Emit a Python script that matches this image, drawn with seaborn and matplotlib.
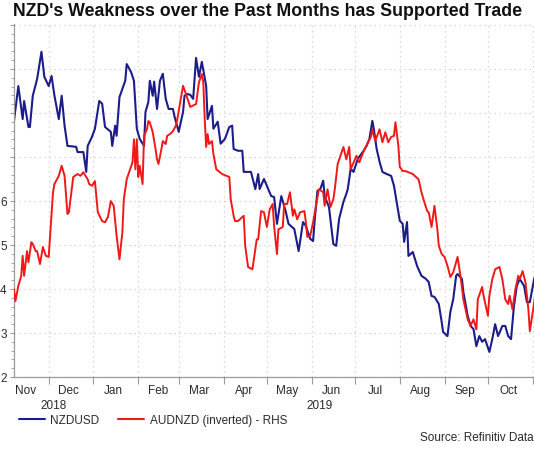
import matplotlib
matplotlib.use("Agg")
import matplotlib.pyplot as plt
import matplotlib.dates as mdates
from matplotlib.lines import Line2D
from matplotlib.ticker import FixedLocator, FixedFormatter, MultipleLocator
import seaborn as sns
import pandas as pd

# ---------------- data ----------------
nzdusd_dates = [
    "2018-11-07", "2018-11-10", "2018-11-13", "2018-11-14", "2018-11-17", "2018-11-18", "2018-11-20",
    "2018-11-23", "2018-11-26", "2018-11-28", "2018-12-01", "2018-12-03", "2018-12-05", "2018-12-08",
    "2018-12-10", "2018-12-12", "2018-12-14", "2018-12-20", "2018-12-21", "2018-12-25", "2018-12-27",
    "2018-12-28", "2018-12-31", "2019-01-02", "2019-01-05", "2019-01-07", "2019-01-09", "2019-01-13",
    "2019-01-14", "2019-01-16", "2019-01-17", "2019-01-19", "2019-01-23", "2019-01-24", "2019-01-27",
    "2019-01-29", "2019-01-31", "2019-02-02", "2019-02-05", "2019-02-06", "2019-02-08", "2019-02-09",
    "2019-02-11", "2019-02-12", "2019-02-14", "2019-02-16", "2019-02-18", "2019-02-20", "2019-02-22",
    "2019-02-25", "2019-02-26", "2019-03-01", "2019-03-04", "2019-03-05", "2019-03-07", "2019-03-09",
    "2019-03-11", "2019-03-13", "2019-03-15", "2019-03-17", "2019-03-20", "2019-03-21", "2019-03-24",
    "2019-03-25", "2019-03-28", "2019-03-30", "2019-04-02", "2019-04-05", "2019-04-07", "2019-04-08",
    "2019-04-11", "2019-04-14", "2019-04-15", "2019-04-20", "2019-04-23", "2019-04-25", "2019-04-26",
    "2019-04-29", "2019-05-04", "2019-05-06", "2019-05-08", "2019-05-11", "2019-05-14", "2019-05-16",
    "2019-05-20", "2019-05-23", "2019-05-26", "2019-05-28", "2019-05-31", "2019-06-02", "2019-06-03",
    "2019-06-05", "2019-06-07", "2019-06-09", "2019-06-10", "2019-06-13", "2019-06-16", "2019-06-18",
    "2019-06-20", "2019-06-23", "2019-06-25", "2019-06-26", "2019-06-28", "2019-06-30", "2019-07-03",
    "2019-07-07", "2019-07-09", "2019-07-11", "2019-07-13", "2019-07-14", "2019-07-16", "2019-07-18",
    "2019-07-20", "2019-07-23", "2019-07-26", "2019-07-28", "2019-08-01", "2019-08-03", "2019-08-04",
    "2019-08-06", "2019-08-07", "2019-08-10", "2019-08-13", "2019-08-16", "2019-08-19", "2019-08-21",
    "2019-08-23", "2019-08-25", "2019-08-28", "2019-08-30", "2019-08-31", "2019-09-03", "2019-09-05",
    "2019-09-07", "2019-09-09", "2019-09-10", "2019-09-13", "2019-09-14", "2019-09-17", "2019-09-19",
    "2019-09-21", "2019-09-23", "2019-09-25", "2019-09-27", "2019-09-29", "2019-10-02", "2019-10-04",
    "2019-10-06", "2019-10-08", "2019-10-11", "2019-10-13", "2019-10-15", "2019-10-17", "2019-10-19",
    "2019-10-21", "2019-10-23", "2019-10-26", "2019-10-28", "2019-10-30", "2019-11-02", "2019-11-03",
]
nzdusd = [
    0.6782, 0.6861, 0.6786, 0.6827, 0.6768, 0.6768, 0.6839,
    0.6877, 0.6939, 0.6882, 0.6861, 0.6884, 0.6839, 0.6786,
    0.6839, 0.6771, 0.6725, 0.6723, 0.6711, 0.6711, 0.6666,
    0.6725, 0.6746, 0.6764, 0.6827, 0.6821, 0.6768, 0.6757,
    0.6725, 0.6771, 0.6748, 0.6836, 0.6873, 0.6911, 0.6893,
    0.6873, 0.6764, 0.6741, 0.6725, 0.6802, 0.6825, 0.6873,
    0.6839, 0.6871, 0.6809, 0.6873, 0.6889, 0.6832, 0.6809,
    0.6809, 0.6793, 0.6757, 0.6802, 0.6839, 0.6843, 0.6841,
    0.6832, 0.6925, 0.6882, 0.6916, 0.6861, 0.6786, 0.6816,
    0.6764, 0.6780, 0.6730, 0.6741, 0.6768, 0.6771, 0.6718,
    0.6714, 0.6714, 0.6666, 0.6666, 0.6627, 0.6661, 0.6627,
    0.6650, 0.6611, 0.6609, 0.6548, 0.6611, 0.6577, 0.6548,
    0.6536, 0.6486, 0.6552, 0.6543, 0.6514, 0.6509, 0.6552,
    0.6623, 0.6627, 0.6646, 0.6611, 0.6586, 0.6502, 0.6498,
    0.6559, 0.6598, 0.6616, 0.6627, 0.6673, 0.6666, 0.6696,
    0.6714, 0.6725, 0.6741, 0.6782, 0.6764, 0.6718, 0.6689,
    0.6666, 0.6661, 0.6657, 0.6634, 0.6555, 0.6548, 0.6507,
    0.6552, 0.6475, 0.6484, 0.6452, 0.6430, 0.6423, 0.6416,
    0.6384, 0.6382, 0.6366, 0.6325, 0.6302, 0.6293, 0.6348,
    0.6377, 0.6430, 0.6434, 0.6423, 0.6393, 0.6339, 0.6316,
    0.6309, 0.6270, 0.6293, 0.6280, 0.6286, 0.6257, 0.6286,
    0.6320, 0.6293, 0.6316, 0.6316, 0.6293, 0.6286, 0.6361,
    0.6407, 0.6423, 0.6407, 0.6370, 0.6370, 0.6423, 0.6430,
]

audnzd_dates = [
    "2018-11-07", "2018-11-08", "2018-11-10", "2018-11-12", "2018-11-13", "2018-11-14", "2018-11-16",
    "2018-11-17", "2018-11-19", "2018-11-20", "2018-11-22", "2018-11-23", "2018-11-25", "2018-11-27",
    "2018-11-29", "2018-12-01", "2018-12-02", "2018-12-04", "2018-12-05", "2018-12-08", "2018-12-10",
    "2018-12-12", "2018-12-14", "2018-12-15", "2018-12-17", "2018-12-18", "2018-12-21", "2018-12-23",
    "2018-12-25", "2018-12-28", "2018-12-29", "2018-12-31", "2019-01-02", "2019-01-04", "2019-01-07",
    "2019-01-09", "2019-01-11", "2019-01-13", "2019-01-15", "2019-01-17", "2019-01-19", "2019-01-21",
    "2019-01-22", "2019-01-24", "2019-01-28", "2019-01-29", "2019-01-30", "2019-01-31", "2019-02-01",
    "2019-02-02", "2019-02-04", "2019-02-05", "2019-02-07", "2019-02-08", "2019-02-09", "2019-02-11",
    "2019-02-13", "2019-02-14", "2019-02-15", "2019-02-17", "2019-02-18", "2019-02-20", "2019-02-21",
    "2019-02-23", "2019-02-25", "2019-02-27", "2019-02-28", "2019-03-02", "2019-03-04", "2019-03-06",
    "2019-03-09", "2019-03-13", "2019-03-15", "2019-03-17", "2019-03-18", "2019-03-19", "2019-03-20",
    "2019-03-21", "2019-03-22", "2019-03-24", "2019-03-25", "2019-03-27", "2019-03-31", "2019-04-05",
    "2019-04-06", "2019-04-08", "2019-04-09", "2019-04-11", "2019-04-15", "2019-04-16", "2019-04-18",
    "2019-04-21", "2019-04-22", "2019-04-24", "2019-04-25", "2019-04-27", "2019-04-29", "2019-05-01",
    "2019-05-03", "2019-05-05", "2019-05-06", "2019-05-08", "2019-05-09", "2019-05-12", "2019-05-13",
    "2019-05-15", "2019-05-17", "2019-05-19", "2019-05-20", "2019-05-22", "2019-05-24", "2019-05-27",
    "2019-05-28", "2019-05-29", "2019-05-31", "2019-06-02", "2019-06-04", "2019-06-06", "2019-06-09",
    "2019-06-10", "2019-06-12", "2019-06-14", "2019-06-16", "2019-06-17", "2019-06-19", "2019-06-23",
    "2019-06-25", "2019-06-27", "2019-06-28", "2019-07-02", "2019-07-04", "2019-07-07", "2019-07-10",
    "2019-07-12", "2019-07-13", "2019-07-15", "2019-07-18", "2019-07-20", "2019-07-22", "2019-07-24",
    "2019-07-26", "2019-07-28", "2019-07-29", "2019-07-31", "2019-08-01", "2019-08-03", "2019-08-05",
    "2019-08-07", "2019-08-10", "2019-08-14", "2019-08-16", "2019-08-18", "2019-08-20", "2019-08-21",
    "2019-08-23", "2019-08-25", "2019-08-27", "2019-08-28", "2019-08-30", "2019-09-01", "2019-09-03",
    "2019-09-05", "2019-09-07", "2019-09-10", "2019-09-12", "2019-09-14", "2019-09-17", "2019-09-19",
    "2019-09-21", "2019-09-23", "2019-09-24", "2019-09-27", "2019-09-28", "2019-10-01", "2019-10-02",
    "2019-10-04", "2019-10-06", "2019-10-09", "2019-10-11", "2019-10-13", "2019-10-15", "2019-10-16",
    "2019-10-18", "2019-10-20", "2019-10-22", "2019-10-23", "2019-10-25", "2019-10-27", "2019-10-29",
    "2019-10-30", "2019-11-01", "2019-11-03",
]
audnzd = [
    1.0801, 1.0821, 1.0795, 1.0778, 1.0744, 1.0778, 1.0736,
    1.0755, 1.0721, 1.0724, 1.0736, 1.0736, 1.0758, 1.0729,
    1.0744, 1.0746, 1.0710, 1.0636, 1.0622, 1.0608, 1.0591,
    1.0608, 1.0673, 1.0670, 1.0631, 1.0610, 1.0605, 1.0608,
    1.0602, 1.0614, 1.0622, 1.0625, 1.0617, 1.0670, 1.0685,
    1.0687, 1.0678, 1.0651, 1.0659, 1.0710, 1.0750, 1.0704,
    1.0648, 1.0614, 1.0585, 1.0546, 1.0597, 1.0546, 1.0610,
    1.0591, 1.0622, 1.0540, 1.0529, 1.0515, 1.0517, 1.0534,
    1.0563, 1.0580, 1.0588, 1.0563, 1.0549, 1.0554, 1.0540,
    1.0537, 1.0532, 1.0523, 1.0512, 1.0483, 1.0455, 1.0469,
    1.0491, 1.0486, 1.0449, 1.0435, 1.0449, 1.0512, 1.0559,
    1.0537, 1.0554, 1.0549, 1.0571, 1.0597, 1.0605, 1.0610,
    1.0648, 1.0676, 1.0685, 1.0685, 1.0676, 1.0727, 1.0763,
    1.0767, 1.0750, 1.0716, 1.0716, 1.0668, 1.0670, 1.0695,
    1.0665, 1.0656, 1.0693, 1.0741, 1.0699, 1.0695, 1.0656,
    1.0656, 1.0636, 1.0676, 1.0665, 1.0682, 1.0670, 1.0668,
    1.0687, 1.0712, 1.0710, 1.0687, 1.0659, 1.0631, 1.0636,
    1.0659, 1.0631, 1.0661, 1.0648, 1.0631, 1.0588, 1.0559,
    1.0580, 1.0559, 1.0597, 1.0574, 1.0585, 1.0566, 1.0551,
    1.0542, 1.0529, 1.0549, 1.0529, 1.0551, 1.0534, 1.0551,
    1.0542, 1.0540, 1.0517, 1.0557, 1.0593, 1.0600, 1.0600,
    1.0602, 1.0605, 1.0614, 1.0636, 1.0653, 1.0668, 1.0670,
    1.0695, 1.0659, 1.0699, 1.0727, 1.0741, 1.0746, 1.0761,
    1.0780, 1.0772, 1.0746, 1.0778, 1.0818, 1.0852, 1.0863,
    1.0852, 1.0869, 1.0818, 1.0797, 1.0812, 1.0846, 1.0812,
    1.0784, 1.0767, 1.0763, 1.0784, 1.0818, 1.0826, 1.0812,
    1.0835, 1.0801, 1.0778, 1.0784, 1.0770, 1.0789, 1.0835,
    1.0872, 1.0840, 1.0806,
]

left_tick_values = [0.62, 0.63, 0.64, 0.65, 0.66, 0.67, 0.68, 0.69, 0.70]
left_tick_labels = ["2", "3", "4", "5", "6", "", "", "", ""]
series_names = ["NZDUSD", "AUDNZD (inverted) - RHS"]
title_text = "NZD's Weakness over the Past Months has Supported Trade"
source_text = "Source: Refinitiv Data"

# ---------------- style ----------------
sns.set_theme(style="white")
plt.rcParams["font.family"] = ["Liberation Sans", "DejaVu Sans"]

BLUE = "#1c1c8a"
RED = "#f01818"
GRID = "#dcc8c8"
SPINE = "#9a9a9a"
TXT = "#2a2a2a"

W, H = 534, 456
fig = plt.figure(figsize=(W / 100, H / 100), dpi=100)
fig.patch.set_facecolor("white")

ax_left, ax_right, ax_bottom, ax_top = 14, 545, 378, 25
ax = fig.add_axes([ax_left / W, 1 - ax_bottom / H, (ax_right - ax_left) / W, (ax_bottom - ax_top) / H])

df1 = pd.DataFrame({"date": pd.to_datetime(nzdusd_dates), "value": nzdusd})
df2 = pd.DataFrame({"date": pd.to_datetime(audnzd_dates), "value": audnzd})

sns.lineplot(data=df1, x="date", y="value", ax=ax, color=BLUE, linewidth=1.5)
ax2 = ax.twinx()
sns.lineplot(data=df2, x="date", y="value", ax=ax2, color=RED, linewidth=1.4)

x0 = pd.Timestamp("2018-11-07")
x1 = pd.Timestamp("2019-11-09 12:00")
ax.set_xlim(x0, x1)
ax.set_ylim(0.62, 0.7002)
ax2.set_ylim(1.095, 1.035)

# left axis
ax.yaxis.set_major_locator(FixedLocator(left_tick_values))
ax.yaxis.set_major_formatter(FixedFormatter(left_tick_labels))
ax.yaxis.set_minor_locator(MultipleLocator(0.002))
ax.tick_params(axis="y", which="major", direction="out", length=3, width=0.8,
               color=SPINE, pad=2.2, labelsize=8.5, labelcolor=TXT, left=True)
ax.tick_params(axis="y", which="minor", direction="out", length=2, width=0.6,
               color=SPINE, left=True)

# x axis: tick marks at month starts, labels mid-month
ax.xaxis.set_major_locator(mdates.MonthLocator())
ax.xaxis.set_major_formatter(plt.NullFormatter())
ax.xaxis.set_minor_locator(mdates.MonthLocator(bymonthday=15))
ax.xaxis.set_minor_formatter(mdates.DateFormatter("%b"))
ax.tick_params(axis="x", which="major", direction="out", length=5, width=0.8,
               color=SPINE, bottom=True)
ax.tick_params(axis="x", which="minor", length=0, pad=5, labelsize=8.5,
               labelcolor=TXT, bottom=True)

ax.set_xlabel("")
ax.set_ylabel("")
ax2.set_ylabel("")
ax2.set_yticks([])
ax2.tick_params(axis="both", which="both", length=0)

ax.grid(True, which="major", axis="both", color=GRID, linestyle=(0, (1, 3)), linewidth=0.9)
for s in ["top", "right"]:
    ax.spines[s].set_visible(False)
    ax2.spines[s].set_visible(False)
for s in ["left", "bottom"]:
    ax.spines[s].set_color(SPINE)
    ax.spines[s].set_linewidth(0.9)
    ax2.spines[s].set_visible(False)

# year labels centred over each year's visible span
yr_spans = [(x0, pd.Timestamp("2019-01-01"), "2018"), (pd.Timestamp("2019-01-01"), x1, "2019")]
for (a, b, lab) in yr_spans:
    mid = a + (b - a) / 2
    ax.text(mdates.date2num(mid), -0.078, lab,
            transform=ax.get_xaxis_transform(), ha="center", va="center",
            fontsize=8.5, color=TXT)

# title
fig.text(268 / W, 1 - 11 / H, title_text, ha="center", va="center",
         fontsize=12.8, fontweight="bold", color="#111111")

# legend
handles = [Line2D([0], [0], color=BLUE, lw=1.5), Line2D([0], [0], color=RED, lw=1.5)]
fig.legend(handles, series_names, loc="center left", bbox_to_anchor=(19 / W, 1 - 421 / H),
           ncol=2, frameon=False, fontsize=8.5, handlelength=2.2, handletextpad=0.45,
           columnspacing=1.6, borderpad=0, borderaxespad=0, labelcolor=TXT)

fig.text(420 / W, 1 - 438 / H, source_text, ha="left", va="center", fontsize=8.5, color=TXT)

fig.savefig("out.png", dpi=100, facecolor="white")
